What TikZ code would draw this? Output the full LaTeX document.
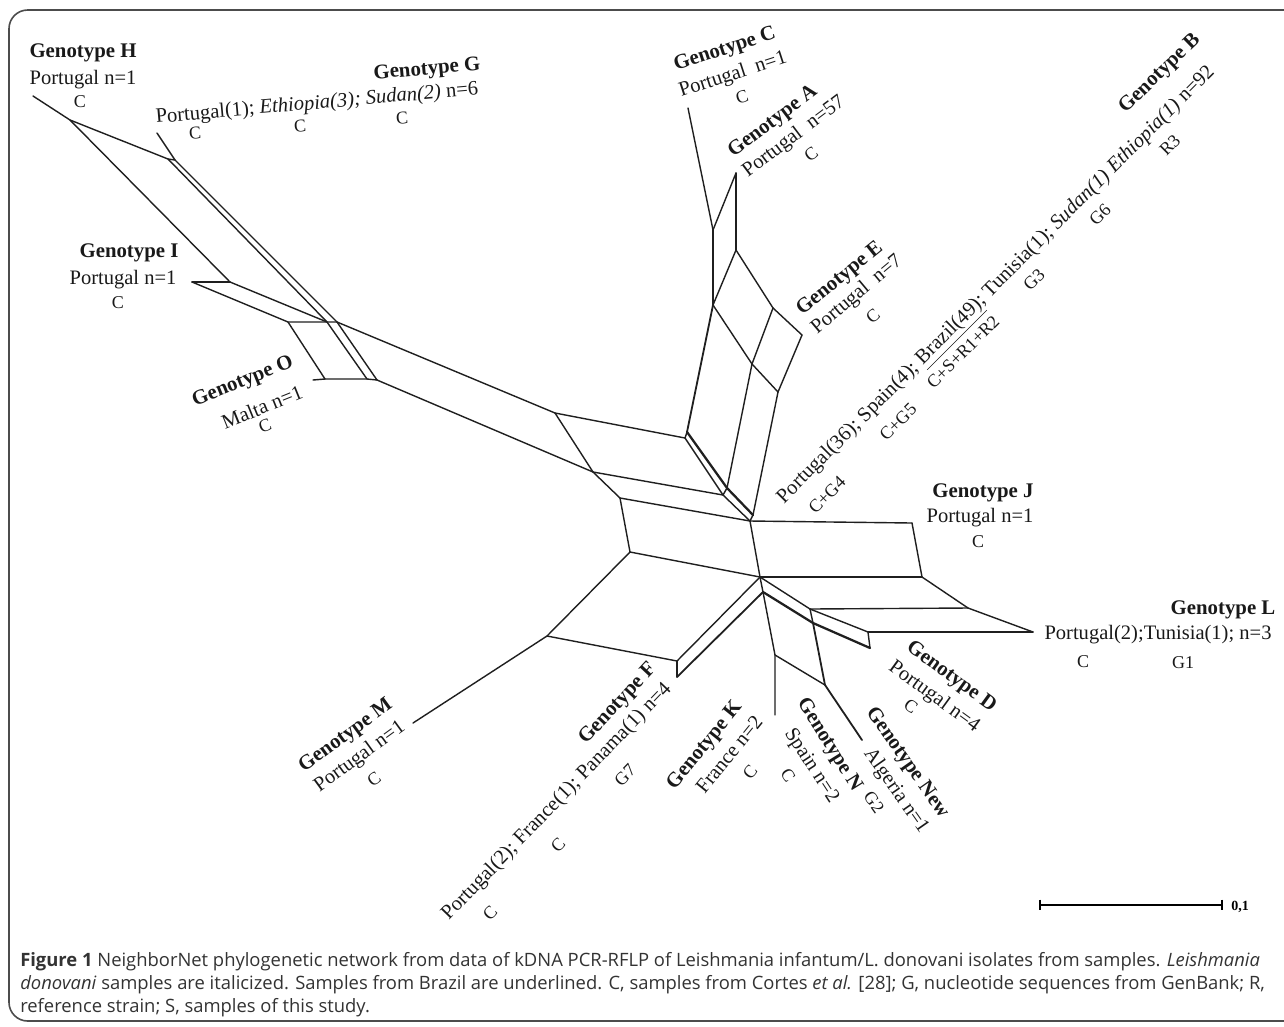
\documentclass[tikz,border=0pt]{standalone}
\usepackage{fontspec}
\setmainfont{Liberation Serif}
\newfontfamily\capfont{Open Sans}
\begin{document}
\begin{tikzpicture}[x=0.75pt,y=-0.75pt,
  net/.style={draw=black!88,line width=1.05pt,line join=round,line cap=round},
  netthick/.style={net,line width=1.7pt},
  netmid/.style={net,line width=1.35pt},
  lab/.style={font=\fontsize{15.4}{17}\selectfont,inner sep=0pt,text=black!90},
  blab/.style={font=\fontsize{15.6}{17}\selectfont\bfseries,inner sep=0pt,text=black!90},
  code/.style={font=\fontsize{13.5}{15}\selectfont,inner sep=0pt,text=black!90},
  capline/.style={font=\capfont\fontsize{13.8}{16}\selectfont,inner sep=0pt,anchor=west,text=black!80}]
\useasboundingbox (0,0) rectangle (1284,1026);
\fill[white] (0,0) rectangle (1284,1026);
% frame
\draw[black!70,line width=1.2pt,rounded corners=14] (1300,10) -- (9,10) -- (9,1021) -- (1300,1021);

% ---------- network coordinates ----------
\coordinate (hL) at (33,96);
\coordinate (h1) at (70,120);
\coordinate (g1) at (168,159);
\coordinate (gL) at (157,133);
\coordinate (g2) at (175,160);
\coordinate (i1) at (230,282);
\coordinate (iL) at (192,282);
\coordinate (i2) at (288,322);
\coordinate (i3) at (327,322);
\coordinate (i3b) at (337,322);
\coordinate (o2) at (325,379);
\coordinate (oL) at (313,380);
\coordinate (o3) at (367,379);
\coordinate (o3b) at (377,380);

\coordinate (q1) at (555,413);
\coordinate (q2) at (685,438);
\coordinate (q2a) at (687,432);
\coordinate (q3) at (593,472);
\coordinate (q4) at (723,495);
\coordinate (q4a) at (727,488);
\coordinate (q5) at (620,498);
\coordinate (q6) at (750,521);
\coordinate (q6a) at (753,515);
\coordinate (q7) at (630,552);
\coordinate (q8) at (760,577);
\coordinate (q8b) at (763,592);
\coordinate (m1) at (547,636);
\coordinate (mL) at (413,723);
\coordinate (f1) at (677,661);
\coordinate (fL) at (677,677);

\coordinate (cL) at (688,108);
\coordinate (aL) at (736,173);
\coordinate (p1) at (713,230);
\coordinate (p2) at (736,250);
\coordinate (p3) at (713,305);
\coordinate (p4) at (773,308);
\coordinate (eL) at (802,335);
\coordinate (p6) at (752,364);
\coordinate (p7) at (778,392);

\coordinate (jL) at (912,523);
\coordinate (r2) at (922,577);
\coordinate (r3) at (968,608);
\coordinate (lL) at (1033,632);
\coordinate (r4) at (810,609);
\coordinate (r6) at (813,623);
\coordinate (r5) at (868,632);
\coordinate (dL) at (870,648);
\coordinate (k1) at (775,655);
\coordinate (kL) at (775,715);
\coordinate (n1) at (825,685);
\coordinate (nwL) at (862,740);

% ---------- left part ----------
\draw[net] (hL) -- (h1) -- (g1);
\draw[net] (gL) -- (g2);
\draw[net] (g1) -- (g2);
\draw[net] (h1) -- (i1);
\draw[net] (iL) -- (i1);
\draw[net] (iL) -- (i2) -- (i3) -- (i3b);
\draw[net] (i1) -- (i3);
\draw[net] (g1) -- (i3) -- (o3);
\draw[net] (g2) -- (i3b) -- (o3b);
\draw[net] (i2) -- (o2);
\draw[net] (oL) -- (o2) -- (o3) -- (o3b);
\draw[net] (i3b) -- (q1);
\draw[net] (o3b) -- (q3);

% ---------- centre ----------
\draw[net] (q1) -- (q2);
\draw[net] (q1) -- (q3);
\draw[net] (q3) -- (q4);
\draw[net] (q3) -- (q5);
\draw[net] (q5) -- (q6);
\draw[net] (q5) -- (q7);
\draw[net] (q7) -- (q8);
\draw[net] (q6) -- (q8);
\draw[net] (q2) -- (q4) -- (q6);
\draw[netthick] (q2a) -- (q4a) -- (q6a);
\draw[net] (q2) -- (q2a);
\draw[net] (q4) -- (q4a);
\draw[net] (q6) -- (q6a);
\draw[net] (q7) -- (m1) -- (mL);
\draw[net] (m1) -- (f1);
\draw[net] (q8) -- (f1);
\draw[netmid] (q8b) -- (fL);
\draw[net] (f1) -- (fL);
\draw[net] (q8) -- (q8b);

% ---------- upper ----------
\draw[net] (cL) -- (p1);
\draw[net] (aL) -- (p1);
\draw[net] (aL) -- (p2);
\draw[net] (p1) -- (p3);
\draw[net] (p2) -- (p3);
\draw[net] (p2) -- (p4);
\draw[net] (p4) -- (eL);
\draw[net] (p3) -- (p6);
\draw[net] (p4) -- (p6);
\draw[net] (p6) -- (p7);
\draw[net] (eL) -- (p7);
\draw[netmid] (p3) -- (q2a);
\draw[net] (p6) -- (q4a);
\draw[net] (p7) -- (q6a);

% ---------- right / bottom ----------
\draw[net] (q6) -- (jL);
\draw[net] (jL) -- (r2);
\draw[net] (q8) -- (r2);
\draw[net] (r2) -- (r3);
\draw[net] (r4) -- (r3);
\draw[net] (r3) -- (lL);
\draw[net] (r5) -- (lL);
\draw[net] (q8) -- (r4);
\draw[netthick] (q8b) -- (r6) -- (dL);
\draw[net] (r4) -- (r6);
\draw[net] (r4) -- (r5) -- (dL);
\draw[net] (q8b) -- (k1) -- (kL);
\draw[net] (k1) -- (n1);
\draw[netmid] (r6) -- (n1) -- (nwL);

% ---------- labels ----------
\node[blab] (hT) at (83,53) {Genotype H};
\node[lab] (hP) at (83,80) {Portugal n=1};
\node[code] (hC) at (80,102) {C};

\node[blab,rotate=5] (gT) at (427,70) {Genotype G};
\node[lab,rotate=5] (gP) at (317,104) {Portugal(1); \textit{Ethiopia(3); Sudan(2)} n=6};
\node[code,rotate=5] (gC1) at (195,133) {C};
\node[code,rotate=5] (gC2) at (300,126) {C};
\node[code,rotate=5] (gC3) at (402,118) {C};

\node[blab] (iT) at (129,253) {Genotype I};
\node[lab] (iP) at (123,280) {Portugal n=1};
\node[code] (iC) at (118,303) {C};

\node[blab,rotate=22] (oT) at (243,382) {Genotype O};
\node[lab,rotate=22] (oP) at (262,407) {Malta n=1};
\node[code,rotate=22] (oC) at (265,426) {C};

\node[blab,rotate=18] (cT) at (725,50) {Genotype C};
\node[lab,rotate=18] (cP) at (733,75) {Portugal\ \ n=1};
\node[code,rotate=18] (cC) at (742,97) {C};

\node[blab,rotate=37] (aT) at (773,122) {Genotype A};
\node[lab,rotate=37] (aP) at (794,137) {Portugal\ \ n=57};
\node[code,rotate=37] (aC) at (811,154) {C};

\node[blab,rotate=39] (eT) at (840,279) {Genotype E};
\node[lab,rotate=40] (eP) at (857,295) {Portugal\ \ n=7};
\node[code,rotate=40] (eC) at (873,316) {C};

\node[blab,rotate=44] (bT) at (1160,74) {Genotype B};
\node[lab,rotate=45] (bP) at (997,286) {Portugal(36); Spain(4); \underline{Brazil(49)}; Tunisia(1); \textit{Sudan(1) Ethiopia(1)} n=92};
\node[code,rotate=45] (bC1) at (827,495) {C+G4};
\node[code,rotate=45] (bC2) at (898,422) {C+G5};
\node[code,rotate=45] (bC3) at (963,352) {C+S+R1+R2};
\node[code,rotate=45] (bC4) at (1034,280) {G3};
\node[code,rotate=45] (bC5) at (1100,215) {G6};
\node[code,rotate=45] (bC6) at (1170,145) {R3};

\node[blab] (jT) at (983,493) {Genotype J};
\node[lab] (jP) at (980,518) {Portugal n=1};
\node[code] (jC) at (978,542) {C};

\node[blab] (lT) at (1223,610) {Genotype L};
\node[lab] (lP) at (1158,635) {Portugal(2);Tunisia(1); n=3};
\node[code] (lC1) at (1083,662) {C};
\node[code] (lC2) at (1183,663) {G1};

\node[blab,rotate=-36] (dT) at (951,677) {Genotype D};
\node[lab,rotate=-36] (dP) at (934,697) {Portugal n=4};
\node[code,rotate=-36] (dC) at (911,706) {C};

\node[blab,rotate=-55] (nwT) at (907,763) {Genotype New};
\node[lab,rotate=-55] (nwP) at (896,791) {Algeria n=1};
\node[code,rotate=-55] (nwC) at (874,802) {G2};

\node[blab,rotate=-58] (nT) at (829,745) {Genotype N};
\node[lab,rotate=-57] (nP) at (811,766) {Spain n=2};
\node[code,rotate=-57] (nC) at (788,775) {C};

\node[blab,rotate=51] (kT) at (705,746) {Genotype K};
\node[lab,rotate=51] (kP) at (729,754) {France n=2};
\node[code,rotate=51] (kC) at (750,772) {C};

\node[blab,rotate=47] (fT) at (618,704) {Genotype F};
\node[lab,rotate=46] (fP) at (557,802) {Portugal(2); France(1); Panama(1) n=4};
\node[code,rotate=46] (fC1) at (490,913) {C};
\node[code,rotate=46] (fC2) at (558,845) {C};
\node[code,rotate=46] (fC3) at (625,775) {G7};

\node[blab,rotate=36] (mT) at (346,736) {Genotype M};
\node[lab,rotate=36] (mP) at (360,757) {Portugal n=1};
\node[code,rotate=36] (mC) at (374,779) {C};

% ---------- scale bar ----------
\coordinate (sb1) at (1040,905);
\coordinate (sb2) at (1222,905);
\draw[black,line width=1.6pt] (sb1) -- (sb2);
\draw[black,line width=1.6pt] ([yshift=4pt]sb1) -- ([yshift=-4pt]sb1);
\draw[black,line width=1.6pt] ([yshift=4pt]sb2) -- ([yshift=-4pt]sb2);
\node[font=\fontsize{10.5}{12}\selectfont\bfseries,inner sep=0pt,anchor=west] (sbl) at (1231,907) {0,1};

% ---------- caption ----------
\node[capline] (cap1) at (20,962) {\textbf{Figure 1} NeighborNet phylogenetic network from data of kDNA PCR-RFLP of Leishmania infantum/L. donovani isolates from samples. \textit{Leishmania}};
\node[capline] (cap2) at (20,985) {\textit{donovani} samples are italicized. Samples from Brazil are underlined. C, samples from Cortes \textit{et al.} [28]; G, nucleotide sequences from GenBank; R,};
\node[capline] (cap3) at (20,1008) {reference strain; S, samples of this study.};
\end{tikzpicture}
\end{document}
